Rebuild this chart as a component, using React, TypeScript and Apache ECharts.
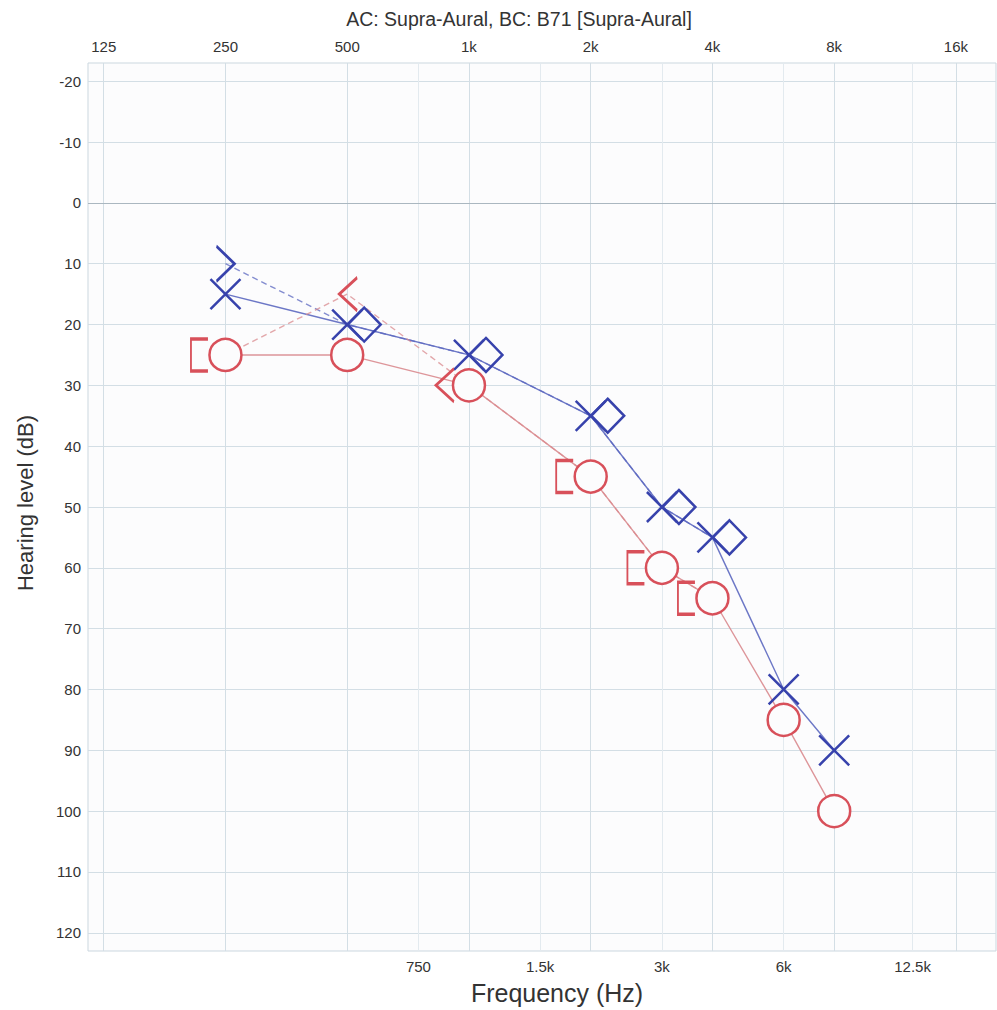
import React, { useEffect, useRef } from 'react';
import * as echarts from 'echarts';

const TITLE = 'AC: Supra-Aural, BC: B71 [Supra-Aural]';
const X_NAME = 'Frequency (Hz)';
const Y_NAME = 'Hearing level (dB)';

const FREQ_MIN_HZ = 114.3;
const FREQ_MAX_HZ = 20100;
const DB_MIN = -23;
const DB_MAX = 123;

const MAJOR_FREQS = [125, 250, 500, 1000, 2000, 4000, 8000, 16000];
const MAJOR_LABELS = ['125', '250', '500', '1k', '2k', '4k', '8k', '16k'];
const MINOR_FREQS = [750, 1500, 3000, 6000, 12500];
const MINOR_LABELS = ['750', '1.5k', '3k', '6k', '12.5k'];
const DB_TICKS = [-20, -10, 0, 10, 20, 30, 40, 50, 60, 70, 80, 90, 100, 110, 120];

// Air conduction thresholds
const AC_FREQS = [250, 500, 1000, 2000, 3000, 4000, 6000, 8000];
const AC_RIGHT_DB = [25, 25, 30, 45, 60, 65, 85, 100];
const AC_LEFT_DB = [15, 20, 25, 35, 50, 55, 80, 90];

// Bone conduction thresholds
const BC_LEFT_UNMASKED_FREQS = [250];
const BC_LEFT_UNMASKED_DB = [10];
const BC_LEFT_MASKED_FREQS = [500, 1000, 2000, 3000, 4000];
const BC_LEFT_MASKED_DB = [20, 25, 35, 50, 55];
const BC_RIGHT_UNMASKED_FREQS = [500, 1000];
const BC_RIGHT_UNMASKED_DB = [15, 30];
const BC_RIGHT_MASKED_FREQS = [250, 2000, 3000, 4000];
const BC_RIGHT_MASKED_DB = [25, 45, 60, 65];

const BLUE = '#3742ac';
const RED = '#d8505a';
const BLUE_LINE = '#5c68c0';
const RED_LINE = '#d98a8e';
const BG = '#fcfcfd';
const GRID_MAJOR = '#d3dee5';
const GRID_MINOR = '#e3eaef';
const TEXT = '#333333';
const FONT = '"Liberation Sans", Arial, sans-serif';

const lg = (f: number) => Math.log2(f);
const pts = (freqs: number[], dbs: number[]) => freqs.map((f, i) => [lg(f), dbs[i]]);
const merged = (fa: number[], da: number[], fb: number[], db: number[]) =>
  fa.map((f, i) => [f, da[i]]).concat(fb.map((f, i) => [f, db[i]]))
    .sort((a, b) => a[0] - b[0])
    .map(([f, d]) => [lg(f), d]);

const labelFor = (freqs: number[], labels: string[]) => (v: number) => {
  const i = freqs.findIndex((f) => Math.abs(lg(f) - v) < 1e-6);
  return i >= 0 ? labels[i] : '';
};

const SYM_X = 'path://M0,0L10,10M10,0L0,10';
const SYM_GT = 'path://M0,0L10,10L0,20';
const SYM_LT = 'path://M10,0L0,10L10,20';
const SYM_BRACKET = 'path://M10,0L0,0L0,20L10,20';

export default function App() {
  const ref = useRef<HTMLDivElement>(null);

  useEffect(() => {
    if (!ref.current) return;
    const chart = echarts.init(ref.current, undefined, { renderer: 'svg' });

    const lineSeries = (data: number[][], color: string, dashed: boolean) => ({
      type: 'line',
      data,
      showSymbol: false,
      silent: true,
      z: 2,
      lineStyle: { color, width: 1.4, type: dashed ? [6, 4] : 'solid', opacity: dashed ? 0.75 : 0.9 },
    });

    const scatter = (data: any[], symbol: string, size: any, color: string, fill: string, offset?: number[]) => ({
      type: 'scatter',
      data,
      symbol,
      symbolSize: size,
      symbolOffset: offset || [0, 0],
      silent: true,
      z: 4,
      itemStyle: { color: fill, borderColor: color, borderWidth: 2.5, opacity: 1 },
    });

    const option: any = {
      animation: false,
      backgroundColor: '#ffffff',
      textStyle: { fontFamily: FONT },
      graphic: [
        {
          type: 'text',
          x: 519,
          y: 19,
          style: {
            text: TITLE,
            fill: TEXT,
            font: `19.5px ${FONT}`,
            textAlign: 'center',
            textVerticalAlign: 'middle',
          },
        },
      ],
      grid: {
        left: 88,
        right: 1,
        top: 63,
        bottom: 58,
        show: true,
        backgroundColor: BG,
        borderColor: '#cbd7df',
        borderWidth: 1,
      },
      xAxis: [
        {
          type: 'value',
          position: 'top',
          min: lg(FREQ_MIN_HZ),
          max: lg(FREQ_MAX_HZ),
          axisLine: { show: false },
          axisTick: { show: false, customValues: MAJOR_FREQS.map(lg) },
          axisLabel: {
            customValues: MAJOR_FREQS.map(lg),
            formatter: labelFor(MAJOR_FREQS, MAJOR_LABELS),
            color: TEXT,
            fontSize: 15,
            margin: 9,
            fontFamily: FONT,
          },
          splitLine: { show: true, lineStyle: { color: GRID_MAJOR, width: 1 } },
        },
        {
          type: 'value',
          position: 'bottom',
          min: lg(FREQ_MIN_HZ),
          max: lg(FREQ_MAX_HZ),
          name: X_NAME,
          nameLocation: 'middle',
          nameGap: 29,
          nameTextStyle: { fontSize: 25, color: TEXT, fontFamily: FONT, padding: [0, 0, 0, 30] },
          axisLine: { show: false },
          axisTick: { show: false, customValues: MINOR_FREQS.map(lg) },
          axisLabel: {
            customValues: MINOR_FREQS.map(lg),
            formatter: labelFor(MINOR_FREQS, MINOR_LABELS),
            color: TEXT,
            fontSize: 15,
            margin: 8,
            fontFamily: FONT,
          },
          splitLine: { show: true, lineStyle: { color: GRID_MINOR, width: 1 } },
        },
      ],
      yAxis: {
        type: 'value',
        inverse: true,
        min: DB_MIN,
        max: DB_MAX,
        name: Y_NAME,
        nameLocation: 'middle',
        nameGap: 52,
        nameTextStyle: { fontSize: 22, color: TEXT, fontFamily: FONT, padding: [0, 0, 0, 8] },
        axisLine: { show: false },
        axisTick: { show: false, customValues: DB_TICKS },
        axisLabel: { customValues: DB_TICKS, color: TEXT, fontSize: 15, margin: 7, fontFamily: FONT },
        splitLine: { show: true, lineStyle: { color: GRID_MAJOR, width: 1 } },
      },
      series: [
        {
          ...lineSeries(pts(AC_FREQS, AC_LEFT_DB), BLUE_LINE, false),
          markLine: {
            silent: true,
            symbol: 'none',
            label: { show: false },
            lineStyle: { color: '#aab7c0', type: 'solid', width: 1 },
            data: [{ yAxis: 0 }],
          },
        },
        lineSeries(pts(AC_FREQS, AC_RIGHT_DB), RED_LINE, false),
        lineSeries(
          merged(BC_LEFT_UNMASKED_FREQS, BC_LEFT_UNMASKED_DB, BC_LEFT_MASKED_FREQS, BC_LEFT_MASKED_DB),
          BLUE_LINE,
          true
        ),
        lineSeries(
          merged(BC_RIGHT_UNMASKED_FREQS, BC_RIGHT_UNMASKED_DB, BC_RIGHT_MASKED_FREQS, BC_RIGHT_MASKED_DB),
          RED_LINE,
          true
        ),
        scatter(pts(AC_FREQS, AC_RIGHT_DB), 'circle', 32, RED, BG),
        scatter(pts(AC_FREQS, AC_LEFT_DB), SYM_X, 30, BLUE, 'rgba(0,0,0,0)'),
        scatter(pts(BC_LEFT_MASKED_FREQS, BC_LEFT_MASKED_DB), 'diamond', [33, 34], BLUE, 'rgba(0,0,0,0)', [17, 0]),
        scatter(pts(BC_LEFT_UNMASKED_FREQS, BC_LEFT_UNMASKED_DB), SYM_GT, [18, 35], BLUE, 'rgba(0,0,0,0)', [0, 0]),
        scatter(
          pts(BC_RIGHT_UNMASKED_FREQS, BC_RIGHT_UNMASKED_DB).map((p, i) => ({
            value: p,
            symbolOffset: BC_RIGHT_UNMASKED_DB[i] === AC_RIGHT_DB[AC_FREQS.indexOf(BC_RIGHT_UNMASKED_FREQS[i])] ? [-24, 0] : [1, 0],
          })),
          SYM_LT,
          [18, 33],
          RED,
          'rgba(0,0,0,0)'
        ),
        scatter(pts(BC_RIGHT_MASKED_FREQS, BC_RIGHT_MASKED_DB), SYM_BRACKET, [17, 32], RED, 'rgba(0,0,0,0)', [-26, 0]),
      ],
    };

    chart.setOption(option);
    return () => chart.dispose();
  }, []);

  return (
    <div
      ref={ref}
      style={{ position: 'absolute', left: 0, top: 0, width: 997, height: 1010 }}
    />
  );
}
